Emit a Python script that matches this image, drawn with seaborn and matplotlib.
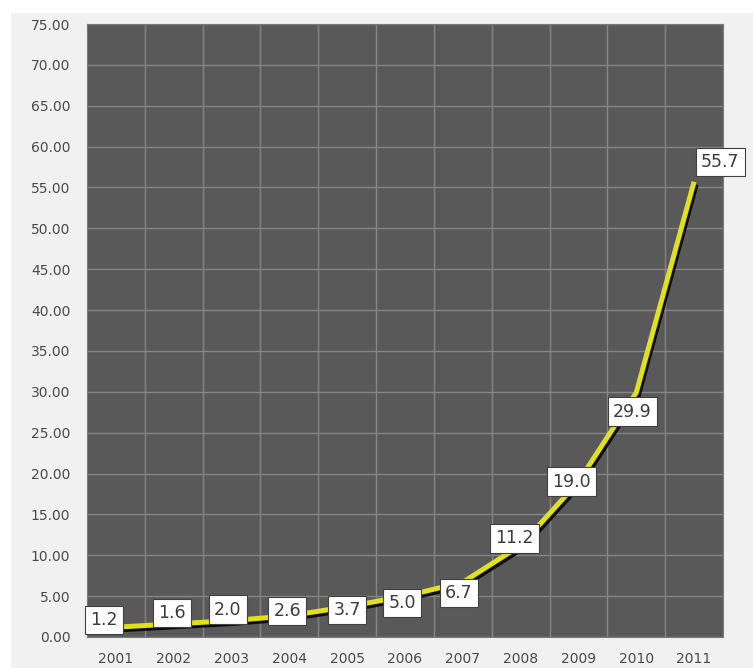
import matplotlib
matplotlib.use("Agg")
import matplotlib.pyplot as plt
import matplotlib.patheffects as pe
from matplotlib.patches import Rectangle
from matplotlib.ticker import FixedLocator, FuncFormatter, MultipleLocator
import seaborn as sns
import pandas as pd

years = [2001, 2002, 2003, 2004, 2005, 2006, 2007, 2008, 2009, 2010, 2011]
values = [1.2, 1.6, 2.0, 2.6, 3.7, 5.0, 6.7, 11.2, 19.0, 29.9, 55.7]
label_texts = ["1.2", "1.6", "2.0", "2.6", "3.7", "5.0", "6.7", "11.2", "19.0", "29.9", "55.7"]

# label offsets (pixels, right / up) — layout only
label_offsets = [(-12, 7), (-2, 11), (-4, 11), (-2, 5), (0, -3), (-3, -7),
                 (-4, -11), (-6, 7), (-7, 0), (-4, -19), (26, 20)]

df = pd.DataFrame({"year": years, "value": values})

sns.set_style("white")
plt.rcParams["font.family"] = ["DejaVu Sans"]

fig = plt.figure(figsize=(7.53, 6.68), dpi=100)
fig.patch.set_facecolor("white")
fig.patches.append(Rectangle((11 / 753, 0), 1 - 11 / 753, (668 - 13) / 668,
                             transform=fig.transFigure, facecolor="#f1f1f1",
                             edgecolor="none", zorder=-10))

ax = fig.add_axes([87 / 753, 31 / 668, 636 / 753, 613 / 668])
ax.set_facecolor("#595959")

sns.lineplot(data=df, x="year", y="value", ax=ax, color="#e0e01c", linewidth=3.6,
             zorder=3, solid_capstyle="butt",
             path_effects=[pe.SimpleLineShadow(offset=(1.5, -2), shadow_color="black", alpha=0.85),
                           pe.Normal()])

ax.set_xlim(years[0] - 0.5, years[-1] + 0.5)
ax.set_ylim(0, 75)
ax.xaxis.set_major_locator(FixedLocator(years))
ax.xaxis.set_minor_locator(FixedLocator([y + 0.5 for y in years]))
ax.yaxis.set_major_locator(MultipleLocator(5))
ax.yaxis.set_major_formatter(FuncFormatter(lambda v, p: f"{v:.2f}"))
ax.grid(False)
ax.grid(True, which="minor", axis="x", color="#858585", linewidth=1.0)
ax.grid(True, which="major", axis="y", color="#858585", linewidth=1.0)
ax.set_axisbelow(True)
ax.tick_params(axis="both", which="both", length=0, labelsize=10, labelcolor="#4a4a4a")
ax.tick_params(axis="y", pad=12)
ax.tick_params(axis="x", pad=11)
ax.set_xlabel("")
ax.set_ylabel("")
for s in ax.spines.values():
    s.set_visible(True)
    s.set_color("#7a7a7a")
    s.set_linewidth(0.8)

for x, y, t, (dx, dy) in zip(years, values, label_texts, label_offsets):
    ax.annotate(t, (x, y), xytext=(dx, dy), textcoords="offset pixels",
                ha="center", va="center", fontsize=12.5, color="#3a3a3a", zorder=5,
                bbox=dict(boxstyle="square,pad=0.3", facecolor="white",
                          edgecolor="#404040", linewidth=0.8))

fig.savefig("out.png", dpi=100)
